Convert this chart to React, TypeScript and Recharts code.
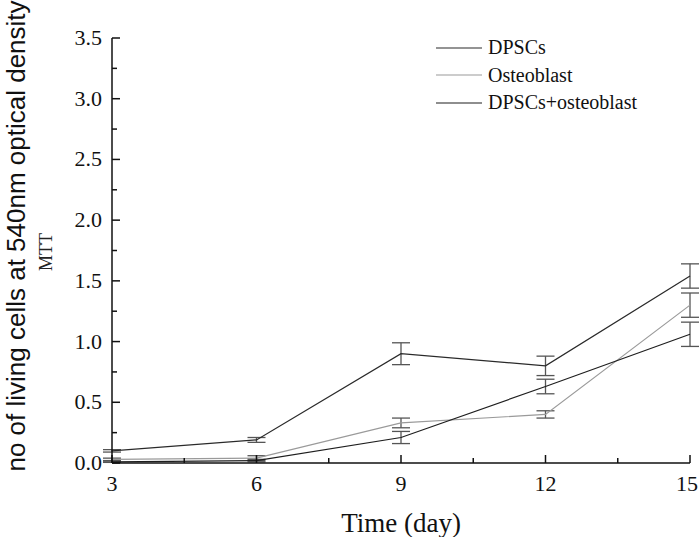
import { LineChart, Line, XAxis, YAxis, ErrorBar, Legend } from 'recharts'

const DAYS = [3, 6, 9, 12, 15]
const DPSC = [0.1, 0.19, 0.9, 0.8, 1.54]
const DPSC_ERR = [0.01, 0.02, 0.09, 0.08, 0.1]
const OSTEO = [0.03, 0.04, 0.33, 0.4, 1.3]
const OSTEO_ERR = [0.01, 0.02, 0.04, 0.03, 0.1]
const COMBO = [0.01, 0.02, 0.21, 0.63, 1.06]
const COMBO_ERR = [0.005, 0.01, 0.05, 0.06, 0.1]

const X_TICKS = [3, 4.5, 6, 7.5, 9, 10.5, 12, 13.5, 15]
const Y_TICKS = [0, 0.25, 0.5, 0.75, 1, 1.25, 1.5, 1.75, 2, 2.25, 2.5, 2.75, 3, 3.25, 3.5]

const SERIES = [
  { key: 'dpsc', name: 'DPSCs', color: '#2a2a2a' },
  { key: 'osteo', name: 'Osteoblast', color: '#9a9a9a' },
  { key: 'combo', name: 'DPSCs+osteoblast', color: '#1e1e1e' },
]

const data = DAYS.map((d, i) => ({
  day: d,
  dpsc: DPSC[i],
  dpscErr: DPSC_ERR[i],
  osteo: OSTEO[i],
  osteoErr: OSTEO_ERR[i],
  combo: COMBO[i],
  comboErr: COMBO_ERR[i],
}))

const SERIF = '"Liberation Serif", "Times New Roman", serif'
const MARGIN = 10

// ticks point into the plot; minor ticks carry no label
function YTick(props: any) {
  const { x, y, payload } = props
  const v = payload.value
  const major = Math.abs(v * 2 - Math.round(v * 2)) < 1e-6
  const ax = x + MARGIN
  return (
    <g>
      <line x1={ax} x2={ax + (major ? 8 : 5)} y1={y} y2={y} stroke="#111" strokeWidth={1.5} />
      {major && (
        <text x={x} y={y} dy={7} textAnchor="end" fontFamily={SERIF} fontSize={22} fill="#111">
          {v.toFixed(1)}
        </text>
      )}
    </g>
  )
}

function XTick(props: any) {
  const { x, y, payload, index } = props
  const v = payload.value
  const major = v % 3 === 0
  const ay = y - MARGIN
  const last = index === X_TICKS.length - 1
  return (
    <g>
      <line x1={x} x2={x} y1={ay} y2={ay - (major ? 8 : 5)} stroke="#111" strokeWidth={1.5} />
      {major && (
        <text x={x} y={y} dx={last ? -3 : 0} dy={18} textAnchor="middle" fontFamily={SERIF} fontSize={22} fill="#111">
          {v}
        </text>
      )}
    </g>
  )
}

function LegendBox() {
  return (
    <div style={{ fontFamily: SERIF, fontSize: 20, color: '#111' }}>
      {SERIES.map((s) => (
        <div key={s.key} style={{ display: 'flex', alignItems: 'center', height: 27.5 }}>
          <svg width={52} height={4}>
            <line x1={0} x2={46} y1={2} y2={2} stroke={s.color} strokeWidth={1.2} />
          </svg>
          <span>{s.name}</span>
        </div>
      ))}
    </div>
  )
}

export default function App() {
  return (
    <div style={{ position: 'absolute', left: 0, top: 0, width: 699, height: 537, background: '#fff' }}>
      <LineChart width={699} height={537} data={data} margin={{ top: 38, right: 9, bottom: 0, left: 0 }}>
        <XAxis
          dataKey="day"
          type="number"
          domain={[3, 15]}
          ticks={X_TICKS}
          interval={0}
          height={74}
          tickSize={0}
          tickMargin={MARGIN}
          tickLine={false}
          tick={<XTick />}
          axisLine={{ stroke: '#111', strokeWidth: 1.5 }}
          label={{ value: 'Time (day)', position: 'insideBottom', offset: 5, fontFamily: SERIF, fontSize: 27, fill: '#111' }}
        />
        <YAxis
          type="number"
          domain={[0, 3.5]}
          ticks={Y_TICKS}
          interval={0}
          width={112}
          tickSize={0}
          tickMargin={MARGIN}
          tickLine={false}
          tick={<YTick />}
          axisLine={{ stroke: '#111', strokeWidth: 1.5 }}
        />
        <Legend
          layout="vertical"
          verticalAlign="middle"
          align="center"
          content={<LegendBox />}
          wrapperStyle={{ left: 436, top: 34, width: 240 }}
        />
        {SERIES.map((s) => (
          <Line
            key={s.key}
            dataKey={s.key}
            name={s.name}
            type="linear"
            stroke={s.color}
            strokeWidth={1.2}
            dot={false}
            activeDot={false}
            isAnimationActive={false}
          >
            <ErrorBar dataKey={`${s.key}Err`} width={9} stroke="#555" strokeWidth={1.3} isAnimationActive={false} />
          </Line>
        ))}
        <text
          x={0}
          y={0}
          transform="translate(25, 236) rotate(-90)"
          textAnchor="middle"
          fontFamily='"Liberation Sans", Arial, sans-serif'
          fontSize={26}
          fill="#111"
        >
          no of living cells at 540nm optical density
        </text>
        <text
          x={0}
          y={0}
          transform="translate(52, 252) rotate(-90)"
          textAnchor="middle"
          fontFamily={SERIF}
          fontSize={18}
          fill="#222"
        >
          MTT
        </text>
      </LineChart>
    </div>
  )
}
